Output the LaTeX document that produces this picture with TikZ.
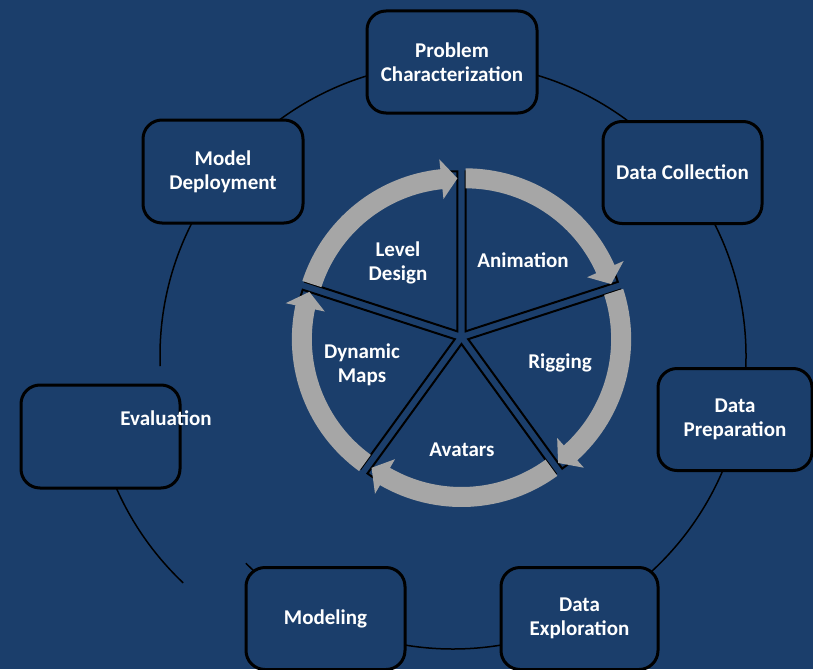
\documentclass[tikz,border=0pt]{standalone}
\usepackage{fontspec}
\setmainfont{Carlito}
\usetikzlibrary{calc}
\definecolor{bg}{HTML}{1B3E6B}
\definecolor{ringgray}{HTML}{A6A6A6}
\begin{document}
\begin{tikzpicture}[x=1pt,y=-1pt,
  lbl/.style={text=white, font=\bfseries\fontsize{21}{24}\selectfont, align=center, inner sep=0pt},
  box/.style={lbl, draw=black, line width=3pt, rounded corners=19pt, fill=bg,
    minimum width=159pt, minimum height=102pt},
  cycleline/.style={draw=black, line width=1.5pt},
  wedge/.style={draw=black, line width=2pt, fill=bg, line join=miter},
]
\fill[bg] (0,0) rectangle (813,669);
\useasboundingbox (0,0) rectangle (813,669);

% outer cycle line
\coordinate (O) at (453,356);
\draw[cycleline] (O) ++(178:293) arc[start angle=178, end angle=495, radius=293];
\coordinate (O2) at (384.5,370);
\draw[cycleline] (O2) ++(133.4:293) arc[start angle=133.4, end angle=157, radius=293];

% inner segmented pie
\coordinate (C) at (461.5,337);
\foreach \a [evaluate=\a as \b using \a+72, evaluate=\a as \m using \a+36] in {270,342,54,126,198}{
  \coordinate (P) at ($(C)+(\m:7)$);
  \draw[wedge] (P) -- ($(P)+(\a:160)$) arc[start angle=\a, end angle=\b, radius=160] -- cycle;
}
\foreach \a [evaluate=\a as \b using \a+72, evaluate=\a as \m using \a+36, evaluate=\a as \e using \a+72-6] in {270,342,54,126,198}{
  \coordinate (P) at ($(C)+(\m:7)$);
  \fill[ringgray] ($(P)+(\a:143)$) arc[start angle=\a, end angle=\e, radius=143]
    -- ($(P)+(\e:133)$) -- ($(P)+(\b:153)$) -- ($(P)+(\e:173)$) -- ($(P)+(\e:163)$)
    arc[start angle=\e, end angle=\a, radius=163] -- cycle;
}

\node[lbl] (anim) at (523,260) {Animation};
\node[lbl] (rig) at (560,363) {Rigging};
\node[lbl] (avat) at (462,450) {Avatars};
\node[lbl] (dyn) at (362,365) {Dynamic\\Maps};
\node[lbl] (lev) at (398,263) {Level\\Design};

% outer boxes
\node[box, minimum width=170pt] (pc) at (452,62) {Problem\\Characterization};
\node[box] (dc) at (682.5,172.5) {Data Collection};
\node[box, minimum width=154pt] (dp) at (735,419.5) {Data\\Preparation};
\node[box, minimum width=157pt] (de) at (579.5,618.5) {Data\\Exploration};
\node[box] (mo) at (325.5,618.5) {Modeling};
\node[box, minimum height=103pt] (ev) at (100.5,436.5) {};
\node[lbl] (evt) at (166,418) {Evaluation};
\node[box, minimum width=160pt, minimum height=103pt] (md) at (223,171.5) {Model\\Deployment};
\end{tikzpicture}
\end{document}
